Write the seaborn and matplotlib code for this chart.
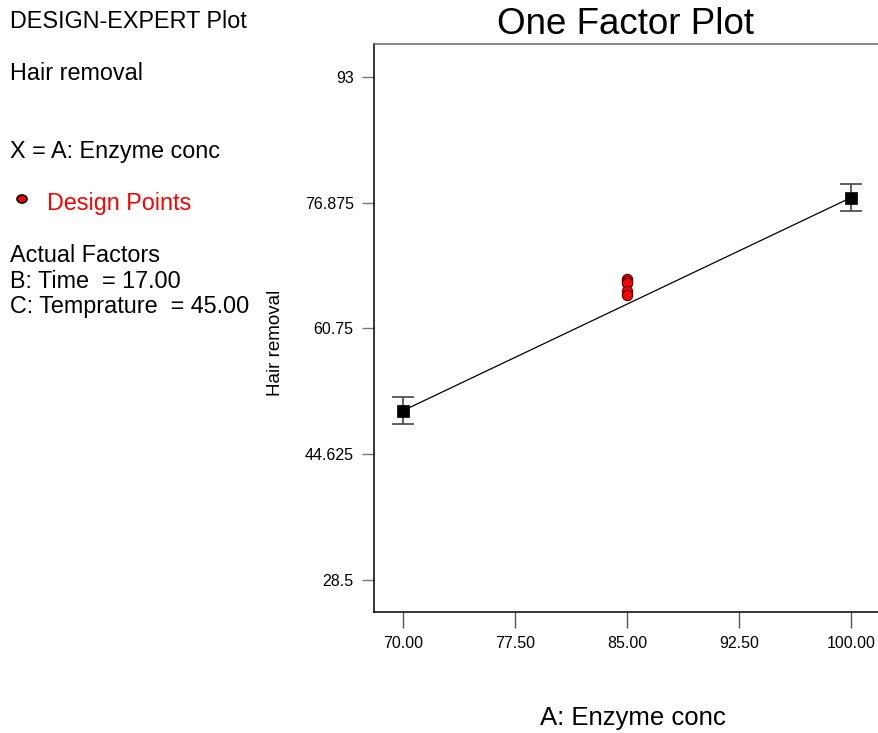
import matplotlib
matplotlib.use("Agg")
import matplotlib.pyplot as plt
import seaborn as sns
import pandas as pd
from matplotlib.patches import Ellipse

# ---- data ----
factor_levels = [70.0, 100.0]
predicted_means = [50.2, 77.5]
lsd_half_width = [1.7, 1.7]
design_x = [85.0, 85.0, 85.0, 85.0, 85.0]
design_y = [67.1, 66.8, 66.5, 65.6, 65.0]
x_ticks = [70.0, 77.5, 85.0, 92.5, 100.0]
x_tick_labels = ["70.00", "77.50", "85.00", "92.50", "100.00"]
y_ticks = [28.5, 44.625, 60.75, 76.875, 93.0]
y_tick_labels = ["28.5", "44.625", "60.75", "76.875", "93"]

sns.set_theme(style="white")
plt.rcParams["font.family"] = ["Liberation Sans", "DejaVu Sans"]
plt.rcParams["text.color"] = "black"
plt.rcParams["xtick.color"] = "black"
plt.rcParams["ytick.color"] = "black"

W, H = 879, 733
fig = plt.figure(figsize=(W / 100, H / 100), dpi=100)

L, R, T, B = 374, 881, 44, 612
ax = fig.add_axes([L / W, 1 - B / H, (R - L) / W, (B - T) / H])

line_df = pd.DataFrame({"x": factor_levels, "y": predicted_means})
pts_df = pd.DataFrame({"x": design_x, "y": design_y})

sns.lineplot(data=line_df, x="x", y="y", ax=ax, color="black", linewidth=0.9,
             zorder=2)
ax.errorbar(factor_levels, predicted_means, yerr=lsd_half_width, fmt="none",
            ecolor="#444444", elinewidth=1.2, capsize=8, capthick=1.2, zorder=3)
sns.scatterplot(data=line_df, x="x", y="y", ax=ax, marker="s", s=75,
                color="black", edgecolor="black", linewidth=0.5, zorder=4)
sns.scatterplot(data=pts_df, x="x", y="y", ax=ax, marker="o", s=55,
                color="#ff0000", edgecolor="#550000", linewidth=0.8, zorder=5)

ax.set_xlim(68.058, 102.01)
ax.set_ylim(24.4, 97.19)
ax.set_xticks(x_ticks)
ax.set_xticklabels(x_tick_labels, fontsize=11.5, color="black")
ax.set_yticks(y_ticks)
ax.set_yticklabels(y_tick_labels, fontsize=11.5, color="black")
ax.tick_params(axis="x", direction="out", length=11.5, width=1, color="#555555",
               pad=6, bottom=True)
ax.tick_params(axis="y", direction="out", length=8.6, width=1, color="#777777",
               pad=6, left=True)
ax.set_xlabel("")
ax.set_ylabel("")
for s in ["left", "bottom"]:
    ax.spines[s].set_color("black")
    ax.spines[s].set_linewidth(1.1)
ax.spines["top"].set_color("#666666")
ax.spines["top"].set_linewidth(1.1)
ax.spines["right"].set_visible(False)
ax.grid(False)

# titles / labels
fig.text(626 / W, 1 - 25 / H, "One Factor Plot", ha="center", va="center",
         fontsize=26.5, color="black")
fig.text(633 / W, 1 - 718 / H, "A: Enzyme conc", ha="center", va="center",
         fontsize=18.5, color="black")
fig.text(275 / W, 1 - 343 / H, "Hair removal", ha="center", va="center",
         rotation=90, fontsize=13.5, color="black")

# left annotation block
fs = 16.8
def lt(y_base, s, color="black", x=10):
    fig.text(x / W, 1 - y_base / H, s, ha="left", va="baseline",
             fontsize=fs, color=color)

lt(28, "DESIGN-EXPERT Plot")
lt(80, "Hair removal")
lt(158, "X = A: Enzyme conc")
lt(210, "Design Points", color="#ff0000", x=47)
lt(262, "Actual Factors")
lt(288, "B: Time  = 17.00")
lt(313, "C: Temprature  = 45.00")

fig.patches.append(Ellipse((22 / W, 1 - 199 / H), 10 / W, 8 / H,
                           transform=fig.transFigure, facecolor="#ff0000",
                           edgecolor="black", linewidth=1.2))

fig.savefig("out.png", dpi=100)
